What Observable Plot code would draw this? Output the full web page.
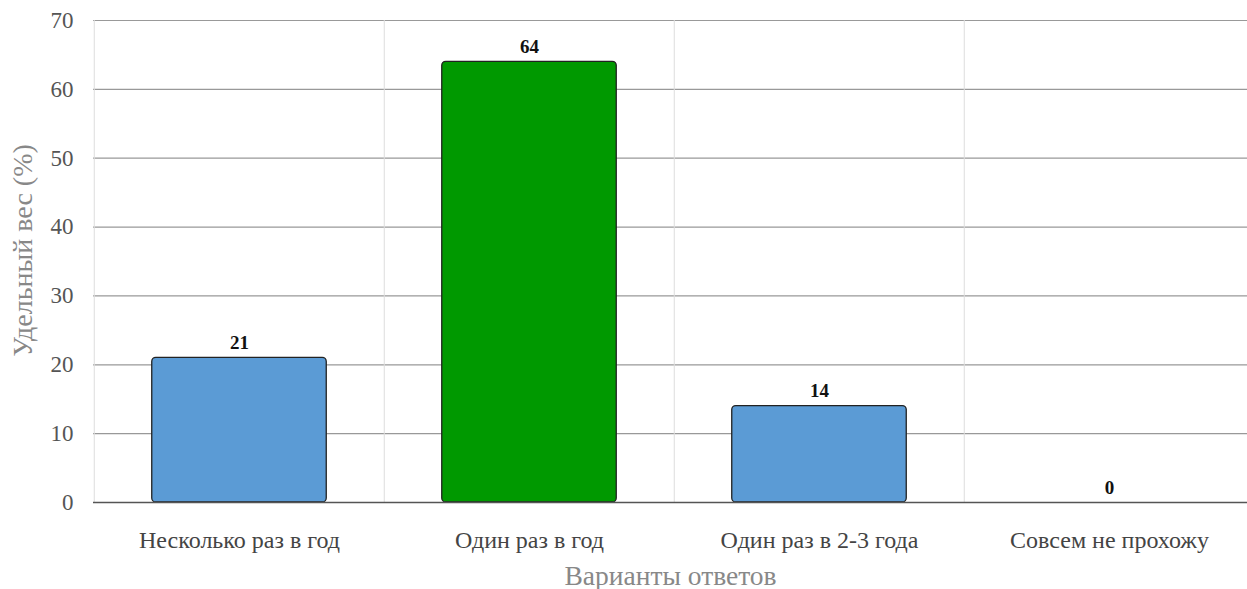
<!DOCTYPE html>
<html>
<head>
<meta charset="utf-8">
<script src="https://cdn.jsdelivr.net/npm/d3@7"></script>
<script src="https://cdn.jsdelivr.net/npm/@observablehq/plot@0.6"></script>
<style>
html, body { margin: 0; padding: 0; background: #fff; overflow: hidden; }
</style>
</head>
<body>
<div id="chart"></div>
<script>
const categories = ["Несколько раз в год", "Один раз в год", "Один раз в 2-3 года", "Совсем не прохожу"];
const values = [21, 64, 14, 0];
const highlight = [false, true, false, false];
const yTicks = [0, 10, 20, 30, 40, 50, 60, 70];
const xTitle = "Варианты ответов";
const yTitle = "Удельный вес (%)";

const data = categories.map((c, i) => ({category: c, value: values[i], hi: highlight[i]}));

const W = 1247, H = 589;
const left = 93, right = 1255;
const band = (right - left) / categories.length;
const font = "Liberation Serif, Times New Roman, serif";

const chart = Plot.plot({
  width: W,
  height: H,
  marginLeft: left,
  marginRight: 0,
  marginTop: 20,
  marginBottom: 87,
  style: {fontFamily: font, background: "#fff", overflow: "hidden"},
  x: {domain: categories, range: [left, right], padding: 0, label: null},
  y: {domain: [0, 70], ticks: yTicks, label: null},
  marks: [
    Plot.gridY(yTicks.filter(t => t > 0), {stroke: "#999", strokeOpacity: 1, strokeWidth: 1.2}),
    Plot.ruleX(categories, {x: d => d, dx: -band / 2, stroke: "#ddd", strokeWidth: 1}),
    Plot.barY(data, {
      x: "category", y: "value",
      fill: d => d.hi ? "#009900" : "#5b9bd5",
      stroke: "#222", strokeWidth: 1.3,
      insetLeft: 57.75, insetRight: 57.75,
      rx: 4
    }),
    Plot.ruleY([0], {stroke: "#555", strokeWidth: 1.6}),
    Plot.text(data, {
      x: "category", y: "value", text: d => String(d.value),
      dy: -15, fontWeight: "bold", fontSize: 19, fill: "#111", fontFamily: font
    }),
    Plot.axisY({ticks: yTicks, tickSize: 0, tickPadding: 20, fontSize: 23, label: null, fill: "#555"}),
    Plot.axisX({tickSize: 0, tickPadding: 28, fontSize: 24, fill: "#444", label: null}),
    Plot.text([xTitle], {
      frameAnchor: "bottom", textAnchor: "middle", dy: 82, text: d => d, fontSize: 27.5, fill: "#888", fontFamily: font
    }),
    Plot.text([yTitle], {
      frameAnchor: "left", textAnchor: "middle", dx: -70, dy: -11, rotate: -90, text: d => d, fontSize: 28, fill: "#888", fontFamily: font
    })
  ]
});
document.getElementById("chart").appendChild(chart);
</script>
</body>
</html>
